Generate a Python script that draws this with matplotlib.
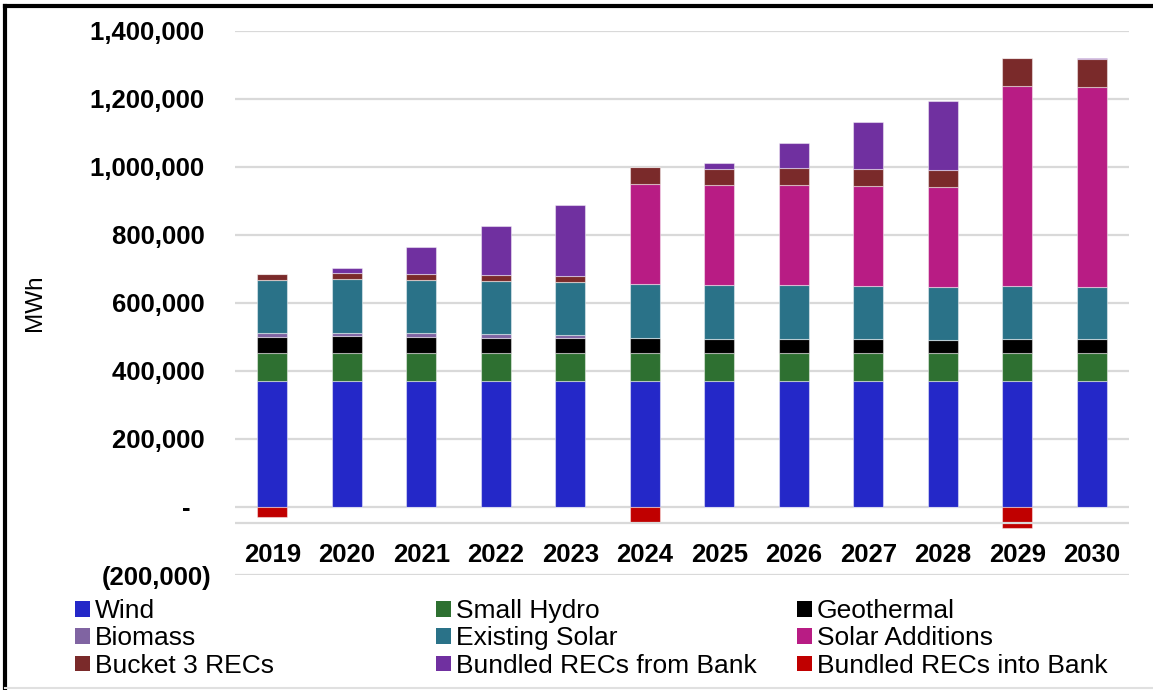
import numpy as np
import matplotlib
matplotlib.use("Agg")
import matplotlib.pyplot as plt
from matplotlib.patches import Patch
from matplotlib.lines import Line2D

plt.rcParams['font.family'] = ['Liberation Sans', 'DejaVu Sans']

years = ['2019', '2020', '2021', '2022', '2023', '2024',
         '2025', '2026', '2027', '2028', '2029', '2030']

# MWh per resource
wind = [370000] * 12
small_hydro = [84000] * 12
geothermal = [47000, 48000, 47000, 44000, 44000, 44000,
              41000, 41000, 41000, 38000, 41000, 39000]
biomass = [10000, 10000, 10000, 10000, 7000, 0,
           0, 0, 0, 0, 0, 0]
existing_solar = [158000, 158000, 157000, 156000, 156000, 157000,
                  157000, 157000, 155000, 155000, 154000, 154000]
solar_additions = [0, 0, 0, 0, 0, 295000,
                   294000, 294000, 295000, 295000, 589000, 589000]
bucket3 = [17000, 17000, 18000, 19000, 18000, 51000,
           49000, 50000, 49000, 50000, 82000, 83000]
from_bank = [0, 17000, 78000, 142000, 209000, 0,
             16000, 75000, 137000, 201000, 0, 2000]
into_bank = [-28000, 0, 0, 0, 0, -46000,
             0, 0, 0, 0, -62000, 0]

series = [
    ('Wind', wind, '#2428C8'),
    ('Small Hydro', small_hydro, '#2E7031'),
    ('Geothermal', geothermal, '#000000'),
    ('Biomass', biomass, '#8064A2'),
    ('Existing Solar', existing_solar, '#2A7288'),
    ('Solar Additions', solar_additions, '#B81C84'),
    ('Bucket 3 RECs', bucket3, '#7A2A2A'),
    ('Bundled RECs from Bank', from_bank, '#7030A0'),
    ('Bundled RECs into Bank', into_bank, '#C00000'),
]

fig = plt.figure(figsize=(11.53, 6.90), dpi=100)
ax = fig.add_axes([235 / 1153, 1 - 575 / 690, (1129 - 235) / 1153, (575 - 31) / 690])

x = np.arange(len(years))
bottom = np.zeros(len(years))
for name, vals, col in series:
    v = np.array(vals, dtype=float)
    if name == 'Bundled RECs into Bank':
        ax.bar(x, v, 0.4, bottom=0, color=col, edgecolor=(1, 1, 1, 0.45),
               linewidth=0.8, zorder=2)
    else:
        ax.bar(x, v, 0.4, bottom=bottom, color=col, edgecolor=(1, 1, 1, 0.45),
               linewidth=0.8, zorder=2)
        bottom += v

ax.set_xlim(-0.5, len(years) - 0.5)
ax.set_ylim(-200000, 1400000)
yt = np.arange(-200000, 1400001, 200000)
ax.set_yticks(yt)
labels = []
for t in yt:
    if t < 0:
        labels.append('({:,})'.format(-t))
    elif t == 0:
        labels.append('-   ')
    else:
        labels.append('{:,} '.format(t))
ax.set_yticklabels(labels, fontsize=18.5, fontweight='bold')
ax.tick_params(axis='y', length=0, pad=17)
ax.set_xticks([])
ax.grid(axis='y', color='#D9D9D9', linewidth=1.6, zorder=0)
ax.axhline(-47000, color='#D9D9D9', linewidth=1.6, zorder=3)
for s in ax.spines.values():
    s.set_visible(False)

for i, yr in enumerate(years):
    ax.text(i, -141000, yr, ha='center', va='center', fontsize=18.5,
            fontweight='bold')

fig.text(35 / 1153, 1 - 303 / 690, 'MWh', rotation=90, ha='center',
         va='center', fontsize=17.5)

# legend: three columns, filled row by row
col_x = [75, 436, 797]
for c in range(3):
    hs = []
    for r in range(3):
        name, vals, col = series[r * 3 + c]
        hs.append(Patch(facecolor=col, edgecolor='none', label=name))
    fig.legend(handles=hs, loc='upper left',
               bbox_to_anchor=(col_x[c] / 1153, 1 - 599 / 690),
               frameon=False, fontsize=19, handlelength=0.55,
               handleheight=0.55, handletextpad=0.2, labelspacing=0.13,
               borderpad=0, borderaxespad=0)

# outer frame
fig.add_artist(Line2D([5 / 1153, 5 / 1153], [0, 1 - 6 / 690],
                      transform=fig.transFigure, color='black', lw=3))
fig.add_artist(Line2D([5 / 1153, 1], [1 - 6 / 690, 1 - 6 / 690],
                      transform=fig.transFigure, color='black', lw=3))
fig.add_artist(Line2D([5 / 1153, 1], [2 / 690, 2 / 690],
                      transform=fig.transFigure, color='#E0E0E0', lw=1.5))

fig.savefig('out.png', dpi=100)
